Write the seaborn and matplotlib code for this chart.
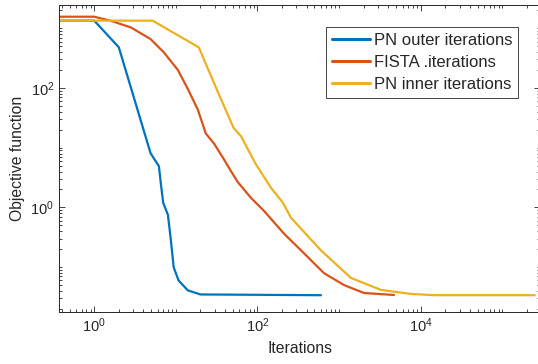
import numpy as np
import pandas as pd
import seaborn as sns
import matplotlib
matplotlib.use("Agg")
import matplotlib.pyplot as plt
from matplotlib.ticker import LogLocator, NullFormatter, LogFormatterMathtext

# values (log-log)
pn_outer_x = [0.3, 1, 2, 4.9, 6.2, 6.6, 7, 8, 8.7, 9.4, 10.8, 14, 20, 600]
pn_outer_y = [1340, 1340, 480, 8.1, 4.9, 2.3, 1.2, 0.75, 0.28, 0.1, 0.06, 0.041, 0.035, 0.034]

fista_x = [0.3, 1, 1.6, 2.8, 4.9, 7.1, 10.6, 14, 18.6, 23.3, 29.3, 38.8, 47.3, 57.6,
           83.2, 120, 211, 372, 654, 1150, 2025, 4720]
fista_y = [1560, 1560, 1330, 1035, 659, 397, 200, 96.7, 43.4, 17.3, 11.8, 6.42, 4.06, 2.65,
           1.45, 0.88, 0.366, 0.171, 0.0795, 0.0503, 0.037, 0.0343]

pn_inner_x = [0.3, 5.2, 19.1, 32.7, 51, 63, 78.7, 95.6, 146, 205, 257, 603, 1403, 3270,
              7640, 15000, 250000]
pn_inner_y = [1340, 1340, 479, 86, 21.5, 15.5, 8.7, 5.3, 2.15, 1.2, 0.675, 0.19, 0.066, 0.0417,
              0.0357, 0.034, 0.034]

labels = ["PN outer iterations", "FISTA .iterations", "PN inner iterations"]
colors = ["#0072BD", "#D95319", "#EDB120"]

df = pd.concat([
    pd.DataFrame({"x": pn_outer_x, "y": pn_outer_y, "series": labels[0]}),
    pd.DataFrame({"x": fista_x, "y": fista_y, "series": labels[1]}),
    pd.DataFrame({"x": pn_inner_x, "y": pn_inner_y, "series": labels[2]}),
])

sns.set_style("ticks")
plt.rcParams["font.family"] = ["Liberation Sans", "DejaVu Sans"]
plt.rcParams["mathtext.fontset"] = "custom"
plt.rcParams["mathtext.rm"] = "Liberation Sans"
plt.rcParams["mathtext.it"] = "Liberation Sans"

fig = plt.figure(figsize=(5.38, 3.64), dpi=100)
ax = fig.add_axes([59 / 538, 1 - 312 / 364, 481 / 538, 307 / 364])

sns.lineplot(data=df, x="x", y="y", hue="series", palette=colors,
             estimator=None, sort=False, linewidth=1.6, ax=ax)

ax.set_xscale("log")
ax.set_yscale("log")
ax.set_xlim(0.37, 2.9e5)
ax.set_ylim(0.0178, 2450)

for axis in (ax.xaxis, ax.yaxis):
    axis.set_major_locator(LogLocator(base=100))
    axis.set_major_formatter(LogFormatterMathtext(base=10))
    axis.set_minor_locator(LogLocator(base=10, subs=np.arange(1, 10), numticks=30))
    axis.set_minor_formatter(NullFormatter())

dark = "#262626"
ax.tick_params(which="both", direction="in", top=True, right=True, colors=dark,
               labelsize=10.5, width=0.6)
ax.tick_params(which="major", length=4)
ax.tick_params(which="minor", length=2)
for s in ax.spines.values():
    s.set_visible(True)
    s.set_color(dark)
    s.set_linewidth(0.7)

ax.set_xlabel("Iterations", fontsize=11.3, color=dark, labelpad=4)
ax.set_ylabel("Objective function", fontsize=11.3, color=dark, labelpad=4)

handles, _ = ax.get_legend_handles_labels()
leg = ax.legend(handles, labels, loc="upper right", bbox_to_anchor=(0.954, 0.928),
                borderaxespad=0, fontsize=12, handlelength=2.3, handletextpad=0.2,
                labelspacing=0.42, borderpad=0.35, fancybox=False, framealpha=1,
                edgecolor=dark)
leg.get_frame().set_linewidth(0.6)
for line in leg.get_lines():
    line.set_linewidth(2.2)

fig.savefig("out.png", dpi=100)
